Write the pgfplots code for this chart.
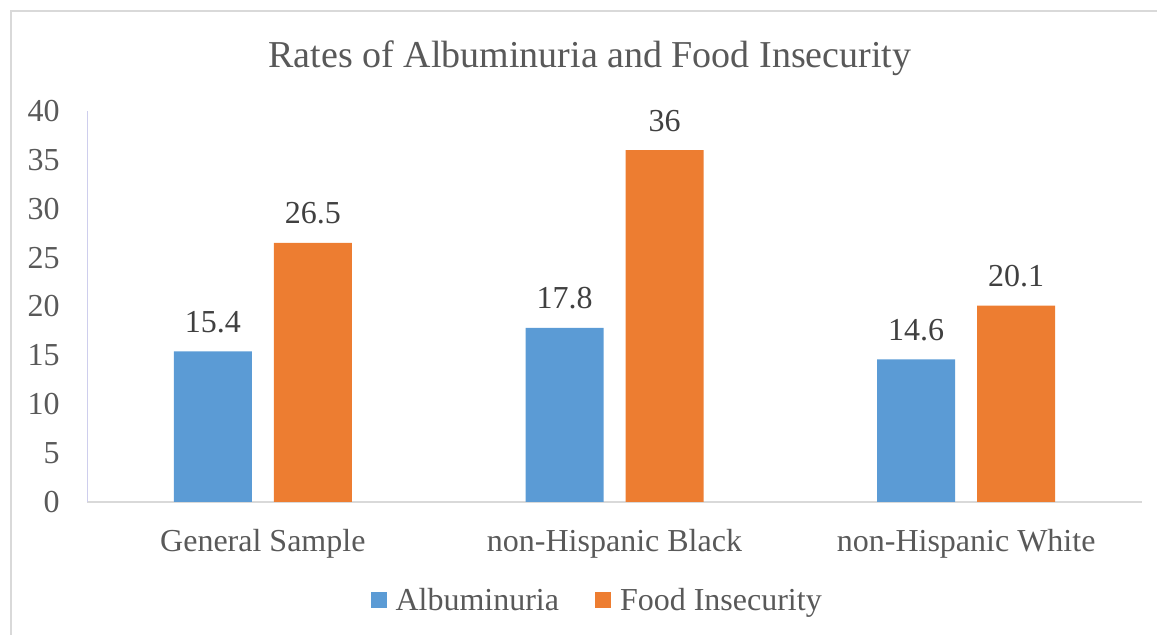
\documentclass[border=0pt]{standalone}
\usepackage{pgfplots}
\pgfplotsset{compat=1.18}
\usepackage{fontspec}
\setmainfont{Liberation Serif}
\definecolor{albblue}{HTML}{5B9BD5}
\definecolor{foodorange}{HTML}{ED7D31}
\definecolor{txtgray}{HTML}{595959}
\definecolor{lblgray}{HTML}{404040}
\definecolor{linegray}{HTML}{D9D9D9}

\pgfplotsset{
  /pgfplots/ybar legend/.style={
    /pgfplots/legend image code/.code={
      \fill[##1] (0pt,-3.5pt) rectangle (8pt,4.5pt);
    },
  },
}

\begin{document}
\begin{tikzpicture}
\useasboundingbox (0,0) rectangle (578.5pt,317.5pt);
% outer chart frame (only left and top visible)
\draw[linegray, line width=0.75pt] (5.5pt,-2pt) -- (5.5pt,312pt) -- (590pt,312pt);
\node[anchor=base, text=txtgray, font=\fontsize{19}{23}\selectfont]
  at (295pt,283.5pt) {Rates of Albuminuria and Food Insecurity};
\begin{axis}[
    at={(43.5pt,66.5pt)}, anchor=south west,
    scale only axis,
    width=527.5pt, height=195.5pt,
    ybar=11pt, bar width=39pt,
    xmin=-0.5, xmax=2.5,
    ymin=0, ymax=40,
    xtick=data,
    xticklabels={General Sample,non-Hispanic Black,non-Hispanic White},
    ytick={0,5,...,40},
    major tick length=0pt,
    axis x line*=bottom,
    axis y line*=left,
    x axis line style={draw=linegray, line width=0.75pt, -},
    y axis line style={draw=linegray!80!blue!60, line width=0.5pt, -},
    /pgf/number format/assume math mode=true,
    ticklabel style={font=\fontsize{16}{19}\selectfont, text=txtgray},
    yticklabel style={anchor=east, inner sep=0pt, xshift=-13.5pt},
    xticklabel style={anchor=base, inner sep=0pt, yshift=-25pt},
    nodes near coords,
    every node near coord/.append style={font=\fontsize{16}{19}\selectfont,
      text=lblgray, anchor=base, inner sep=0pt, yshift=9.5pt},
    legend style={at={(0.4845,-0.253)}, anchor=center, draw=none,
      legend columns=-1, font=\fontsize{16}{19}\selectfont, text=txtgray,
      /tikz/every odd column/.append style={column sep=2.5pt},
      /tikz/every even column/.append style={column sep=16pt}},
  ]
\addplot[draw=none, fill=albblue] coordinates {(0,15.4) (1,17.8) (2,14.6)};
\addplot[draw=none, fill=foodorange] coordinates {(0,26.5) (1,36) (2,20.1)};
\legend{Albuminuria,Food Insecurity}
\end{axis}
\end{tikzpicture}
\end{document}
